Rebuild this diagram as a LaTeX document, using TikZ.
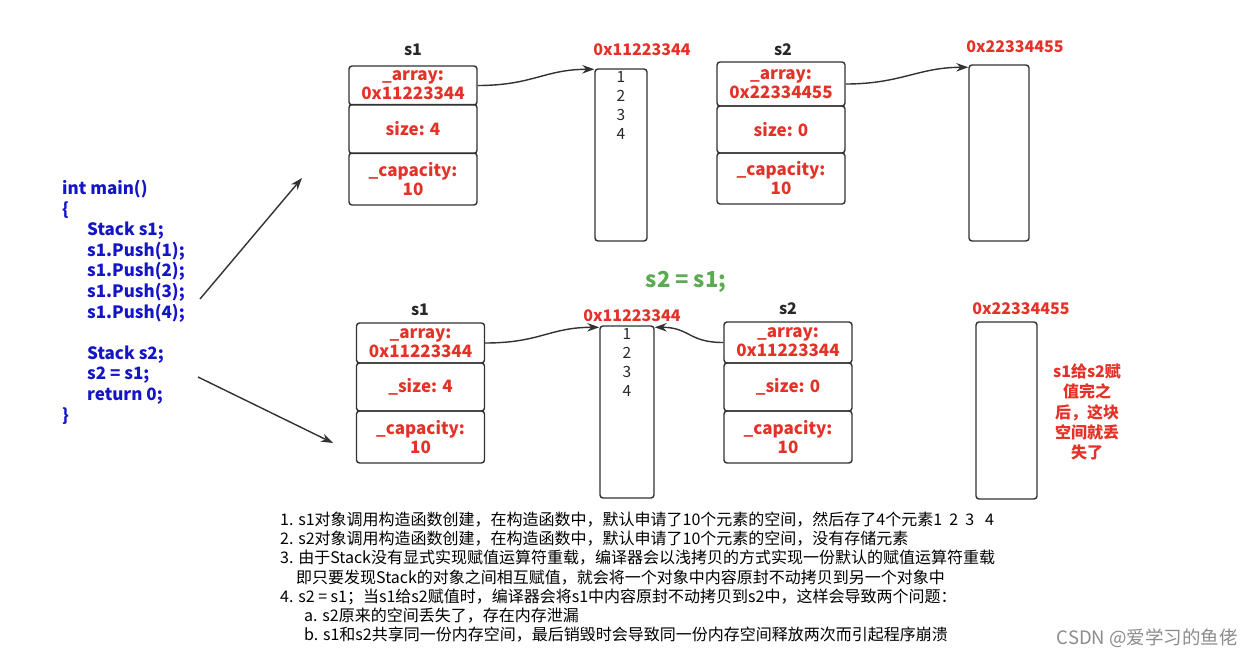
\documentclass[tikz,border=0pt]{standalone}
\usepackage{fontspec}
\setmainfont{Noto Sans CJK SC}
\usetikzlibrary{arrows.meta}
\definecolor{myred}{RGB}{228,50,40}
\definecolor{myblue}{RGB}{20,20,200}
\definecolor{mygreen}{RGB}{92,170,82}
\definecolor{boxc}{RGB}{50,50,50}
\definecolor{txt}{RGB}{40,40,40}
\begin{document}
\begin{tikzpicture}[x=1pt,y=-1pt,
  cell/.style={draw=boxc, line width=1.4pt, rounded corners=3pt, minimum width=128pt,
    inner sep=0pt, align=center, text=myred, font=\bfseries\fontsize{17}{19}\selectfont},
  mem/.style={draw=boxc, line width=1.4pt, rounded corners=3pt, inner sep=0pt},
  nums/.style={anchor=north, inner sep=0pt, align=center, text=txt, font=\fontsize{15.5}{19}\selectfont},
  objlbl/.style={text=txt, font=\bfseries\fontsize{16}{18}\selectfont, inner sep=0pt},
  addr/.style={text=myred, font=\bfseries\fontsize{16}{18}\selectfont, inner sep=0pt},
  link/.style={draw=boxc, line width=1.4pt, -{Stealth[length=12pt,width=8.5pt]}},
  note/.style={align=left, inner sep=0pt, text=black, font=\fontsize{16}{19.1}\selectfont}
]
\useasboundingbox[fill=white] (0,0) rectangle (1254,658);

% ---------- top: s1 ----------
\node[objlbl] (t1lbl) at (413,50) {s1};
\node[cell, minimum height=39pt] (t1a) at (413,85.5) {\_array:\\0x11223344};
\node[cell, minimum height=49pt] (t1s) at (413,129) {size: 4};
\node[cell, minimum height=52pt] (t1c) at (413,179) {\_capacity:\\10};
% top array 1
\node[addr] (t1addr) at (642,50) {0x11223344};
\node[mem, minimum width=52pt, minimum height=172pt] (tarr1) at (621,155) {};
\node[nums] (tnum1) at ([yshift=-3pt]tarr1.north) {1\\2\\3\\4};

% ---------- top: s2 ----------
\node[objlbl] (t2lbl) at (783,50) {s2};
\node[cell, minimum height=44pt] (t2a) at (781,84) {\_array:\\0x22334455};
\node[cell, minimum height=47pt] (t2s) at (781,129.5) {size: 0};
\node[cell, minimum height=51pt] (t2c) at (781,178.5) {\_capacity:\\10};
% top array 2
\node[addr] (t2addr) at (1015,47) {0x22334455};
\node[mem, minimum width=60pt, minimum height=176pt] (tarr2) at (999,153) {};

\draw[link] (t1a.east) .. controls +(55,0) and +(-50,0) .. ([yshift=-1pt]tarr1.north west);
\draw[link] (t2a.east) .. controls +(55,0) and +(-50,0) .. ([yshift=-3pt]tarr2.north west);

% ---------- middle label ----------
\node[text=mygreen, font=\bfseries\fontsize{22}{24}\selectfont, inner sep=0pt] (assign) at (686,282) {s2 = s1;};

% ---------- bottom: s1 ----------
\node[objlbl] (b1lbl) at (420,310) {s1};
\node[cell, minimum height=40pt] (b1a) at (420.5,343) {\_array:\\0x11223344};
\node[cell, minimum height=48pt] (b1s) at (420.5,387) {\_size: 4};
\node[cell, minimum height=52pt] (b1c) at (420.5,437) {\_capacity:\\10};
% bottom array 1
\node[addr] (b1addr) at (632,316) {0x11223344};
\node[mem, minimum width=54pt, minimum height=172pt] (barr1) at (627,412) {};
\node[nums] (bnum1) at ([yshift=-3pt]barr1.north) {1\\2\\3\\4};

% ---------- bottom: s2 ----------
\node[objlbl] (b2lbl) at (788,309) {s2};
\node[cell, minimum height=41pt] (b2a) at (788,342.5) {\_array:\\0x11223344};
\node[cell, minimum height=48pt] (b2s) at (788,387) {\_size: 0};
\node[cell, minimum height=52pt] (b2c) at (788,437) {\_capacity:\\10};
% bottom array 2
\node[addr] (b2addr) at (1021,309) {0x22334455};
\node[mem, minimum width=61pt, minimum height=177pt] (barr2) at (1006.5,410.5) {};

\node[text=myred, align=center, inner sep=0pt, font=\bfseries\fontsize{16}{20.3}\selectfont] (lost) at (1087,412)
  {s1给s2赋\\值完之\\后，这块\\空间就丢\\失了};

\draw[link] (b1a.east) .. controls +(55,0) and +(-50,0) .. ([yshift=-2pt]barr1.north west);
\draw[link] (b2a.west) .. controls +(-35,0) and +(35,0) .. ([yshift=-2pt]barr1.north east);

% ---------- code ----------
\node[anchor=north west, align=left, inner sep=0pt, text=myblue,
      font=\bfseries\fontsize{17}{20.6}\selectfont] (code) at (62,180)
  {int main()\\
   \{\\
   \hspace*{25pt}Stack s1;\\
   \hspace*{25pt}s1.Push(1);\\
   \hspace*{25pt}s1.Push(2);\\
   \hspace*{25pt}s1.Push(3);\\
   \hspace*{25pt}s1.Push(4);\\
   \mbox{}\\
   \hspace*{25pt}Stack s2;\\
   \hspace*{25pt}s2 = s1;\\
   \hspace*{25pt}return 0;\\
   \}};
\coordinate (c1from) at (200,299);
\coordinate (c1to) at (302,178);
\coordinate (c2from) at (198,377);
\coordinate (c2to) at (333,443);
\draw[link] (c1from) -- (c1to);
\draw[link] (c2from) -- (c2to);

% ---------- notes ----------
\node[note, anchor=north west] (notes) at (280,512)
  {1. s1对象调用构造函数创建，在构造函数中，默认申请了10个元素的空间，然后存了4个元素1\ \ 2\ \ 3\ \ \ 4\\
   2. s2对象调用构造函数创建，在构造函数中，默认申请了10个元素的空间，没有存储元素\\
   3. 由于Stack没有显式实现赋值运算符重载，编译器会以浅拷贝的方式实现一份默认的赋值运算符重载\\
   \hspace*{16pt}即只要发现Stack的对象之间相互赋值，就会将一个对象中内容原封不动拷贝到另一个对象中\\
   4. s2 = s1；当s1给s2赋值时，编译器会将s1中内容原封不动拷贝到s2中，这样会导致两个问题：\\
   \hspace*{24pt}a. s2原来的空间丢失了，存在内存泄漏\\
   \hspace*{24pt}b. s1和s2共享同一份内存空间，最后销毁时会导致同一份内存空间释放两次而引起程序崩溃};

\node[anchor=east, inner sep=0pt, text=black!45, font=\fontsize{18.5}{20}\selectfont] (wm) at (1238,638) {CSDN @爱学习的鱼佬};
\end{tikzpicture}
\end{document}
